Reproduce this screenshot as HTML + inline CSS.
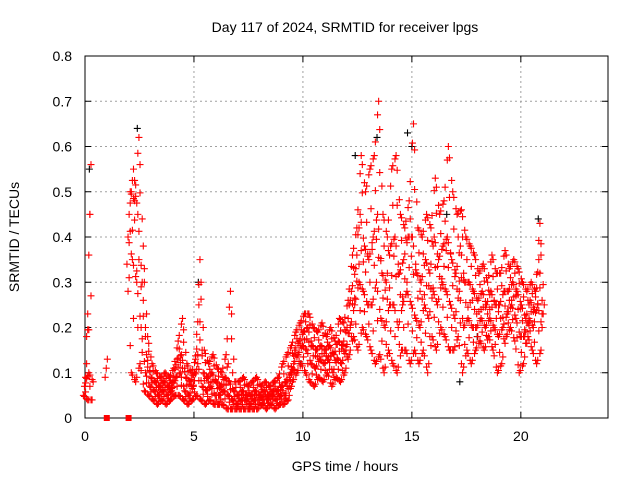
<!DOCTYPE html>
<html><head><meta charset="utf-8"><style>
body{margin:0;background:#fff;}
svg{display:block;font-family:"Liberation Sans",sans-serif;}
</style></head><body>
<svg id="chart" width="640" height="480" xmlns="http://www.w3.org/2000/svg">
<rect width="640" height="480" fill="#fff"/>
<text x="345" y="32" font-size="14" text-anchor="middle">Day 117 of 2024, SRMTID for receiver lpgs</text>
<text x="345" y="471" font-size="14" text-anchor="middle">GPS time / hours</text>
<text transform="translate(19,237) rotate(-90)" font-size="14" text-anchor="middle">SRMTID / TECUs</text>
<g id="grid"></g><g id="axes"></g><g id="black"></g><g id="red"></g>
</svg>
<script>
const times=[0.0,0.2,0.4,0.6,0.8,1.0,1.2,1.4,1.6,1.8,2.0,2.2,2.4,2.6,2.8,3.0,3.2,3.4,3.6,3.8,4.0,4.2,4.4,4.6,4.8,5.0,5.2,5.4,5.6,5.8,6.0,6.2,6.4,6.6,6.8,7.0,7.2,7.4,7.6,7.8,8.0,8.2,8.4,8.6,8.8,9.0,9.2,9.4,9.6,9.8,10.0,10.2,10.4,10.6,10.8,11.0,11.2,11.4,11.6,11.8,12.0,12.2,12.4,12.6,12.8,13.0,13.2,13.4,13.6,13.8,14.0,14.2,14.4,14.6,14.8,15.0,15.2,15.4,15.6,15.8,16.0,16.2,16.4,16.6,16.8,17.0,17.2,17.4,17.6,17.8,18.0,18.2,18.4,18.6,18.8,19.0,19.2,19.4,19.6,19.8,20.0,20.2,20.4,20.6,20.8,21.0];
const redA=[.05,.04,.04,null,null,.09,null,null,null,null,.34,.10,.08,.12,.06,.05,.04,.03,.04,.03,.04,.05,.05,.04,.03,.04,.05,.04,.03,.04,.03,.03,.03,.02,.02,.02,.02,.02,.02,.02,.02,.03,.02,.03,.02,.03,.03,.04,.08,.10,.12,.10,.08,.07,.09,.08,.10,.07,.09,.08,.10,.14,.18,.15,.20,.18,.15,.12,.14,.10,.15,.12,.10,.15,.15,.12,.15,.12,.15,.10,.18,.15,.20,.18,.15,.15,.18,.10,.15,.12,.15,.17,.15,.18,.15,.10,.12,.18,.20,.17,.10,.12,.18,.15,.12,.15];
const redB=[.07,.10,.08,null,null,.11,null,null,null,null,.40,.35,.30,.20,.10,.07,.06,.05,.06,.05,.06,.09,.10,.06,.05,.07,.12,.07,.06,.07,.05,.05,.06,.05,.04,.03,.04,.04,.03,.04,.04,.04,.04,.05,.04,.05,.05,.07,.12,.14,.16,.15,.12,.11,.13,.12,.13,.10,.13,.12,.15,.20,.25,.30,.28,.25,.25,.30,.22,.20,.25,.25,.20,.25,.28,.25,.22,.20,.25,.22,.28,.25,.30,.28,.25,.22,.28,.20,.22,.20,.20,.22,.20,.22,.20,.18,.20,.23,.25,.22,.18,.18,.22,.20,.25,.20];
const redC=[.09,.45,null,null,null,.13,null,null,null,null,.45,.55,.45,.30,.14,.09,.08,.07,.08,.07,.08,.13,.14,.09,.08,.10,.25,.10,.09,.10,.08,.07,.09,.08,.06,.05,.06,.05,.05,.06,.05,.06,.05,.06,.06,.07,.08,.10,.15,.17,.19,.20,.16,.15,.16,.15,.16,.14,.17,.16,.20,.28,.33,.45,.38,.35,.40,.45,.32,.30,.38,.40,.32,.35,.40,.40,.32,.30,.35,.32,.40,.35,.38,.40,.35,.32,.38,.30,.30,.28,.26,.28,.25,.28,.25,.25,.28,.28,.30,.28,.25,.22,.26,.24,.35,.23];
const redD=[.12,.56,null,null,null,null,null,null,null,null,.50,.48,.62,.38,.18,.12,.10,.09,.10,.09,.11,.17,.22,.12,.10,.13,.35,.15,.12,.14,.11,.10,.14,.28,.08,.08,.09,.07,.08,.09,.07,.08,.07,.08,.09,.12,.14,.16,.19,.21,.23,.23,.20,.19,.21,.18,.20,.17,.22,.21,.26,.36,.42,.58,.50,.55,.58,.70,.45,.40,.55,.58,.45,.42,.48,.65,.42,.40,.45,.42,.53,.45,.48,.60,.50,.45,.46,.40,.38,.36,.32,.34,.30,.36,.32,.32,.37,.33,.35,.33,.30,.28,.30,.28,.43,.25];
const blackT=[0.2,2.4,12.4,13.4,14.8,17.2,18.0,9.9,20.8,5.2,16.6,15.0];
const blackV=[0.55,0.64,0.58,0.62,0.63,0.08,0.18,0.12,0.44,0.30,0.45,0.60];
const squaresT=[1.0,2.0];
const xTicks=[0,5,10,15,20];
const yTicks=[0,0.1,0.2,0.3,0.4,0.5,0.6,0.7,0.8];
const X0=85,X1=608,Y0=418,Y1=56,XMAX=24,YMAX=0.8;
function sx(t){return X0+(X1-X0)*t/XMAX;}
function sy(v){return Y0-(Y0-Y1)*v/YMAX;}
const NS="http://www.w3.org/2000/svg";
function mk(tag,attrs,parent){const e=document.createElementNS(NS,tag);for(const k in attrs)e.setAttribute(k,attrs[k]);parent.appendChild(e);return e;}
const grid=document.getElementById('grid'),axes=document.getElementById('axes');
xTicks.forEach(t=>{
  const x=sx(t);
  if(t>0){const g=mk('line',{x1:x,y1:Y0,x2:x,y2:Y1,stroke:'#a0a0a0','stroke-dasharray':'2,3'},grid);
  
  }
  mk('line',{x1:x,y1:Y0,x2:x,y2:Y0-6,stroke:'#000'},axes);
  mk('line',{x1:x,y1:Y1,x2:x,y2:Y1+6,stroke:'#000'},axes);
  const l=mk('text',{x:x,y:Y0+23,'font-size':14,'text-anchor':'middle'},axes);l.textContent=t;
  
  
});
yTicks.forEach(v=>{
  const y=sy(v);
  if(v>0&&v<YMAX){const g=mk('line',{x1:X0,y1:y,x2:X1,y2:y,stroke:'#a0a0a0','stroke-dasharray':'2,3'},grid);
  
  }
  mk('line',{x1:X0,y1:y,x2:X0+6,y2:y,stroke:'#000'},axes);
  mk('line',{x1:X1,y1:y,x2:X1-6,y2:y,stroke:'#000'},axes);
  const l=mk('text',{x:X0-13,y:y+5,'font-size':14,'text-anchor':'end'},axes);l.textContent=(v===0?'0':v.toFixed(1));
  
  
});
const frame=mk('rect',{x:X0,y:Y1,width:X1-X0,height:Y0-Y1,fill:'none',stroke:'#000'},axes);


function plus(g,t,v,col){const x=sx(t),y=sy(v);
  const p=mk('path',{d:`M${x-3.5},${y}h7M${x},${y-3.5}v7`,stroke:col,'stroke-width':1.1,fill:'none'},g);
  
  }
const bg=document.getElementById('black'),rg=document.getElementById('red');
blackT.forEach((t,i)=>plus(bg,t,blackV[i],'#000'));
const series=[redA,redB,redC,redD];
series.forEach((arr,k)=>{
  arr.forEach((v,i)=>{if(v==null)return;
    const off=(k-1.5)*0.05;
    plus(rg,times[i]+off,v,'#f00');
    if(i+1<arr.length&&arr[i+1]!=null){
      const nb=series[(k+1)%4][i];
      [0.05,0.1,0.15].forEach((f,j)=>{
        const w=f/0.2;
        let vv=v+(arr[i+1]-v)*w;
        if(j===1&&nb!=null)vv=(vv+nb)/2;
        plus(rg,times[i]+f+off,vv,'#f00');
      });
    }
  });
});
squaresT.forEach(t=>{const s=mk('rect',{x:sx(t)-3,y:Y0-3,width:6,height:6,fill:'#f00'},rg);
  
  });
</script>
</body></html>
